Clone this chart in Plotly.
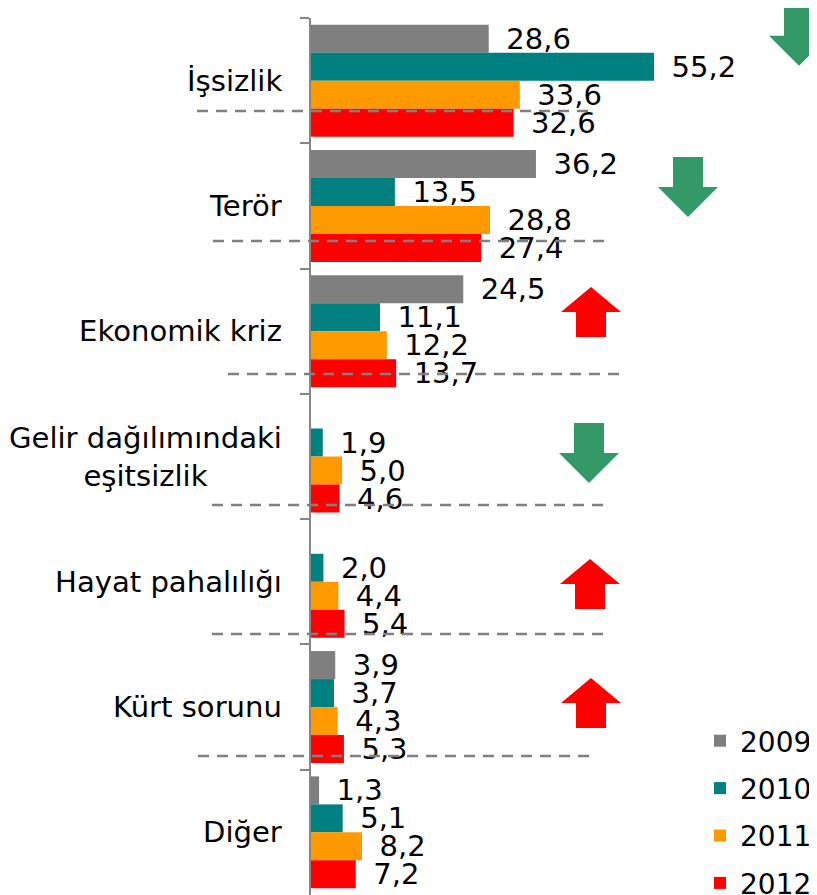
import plotly.graph_objects as go

# ---------------- data ----------------
categories = ["İşsizlik", "Terör", "Ekonomik kriz", "Gelir dağılımındaki eşitsizlik",
              "Hayat pahalılığı", "Kürt sorunu", "Diğer"]
category_labels = ["İşsizlik", "Terör", "Ekonomik kriz", "Gelir dağılımındaki<br>eşitsizlik",
                   "Hayat pahalılığı", "Kürt sorunu", "Diğer"]
years = ["2009", "2010", "2011", "2012"]
values_2009 = [28.6, 36.2, 24.5, None, None, 3.9, 1.3]
values_2010 = [55.2, 13.5, 11.1, 1.9, 2.0, 3.7, 5.1]
values_2011 = [33.6, 28.8, 12.2, 5.0, 4.4, 4.3, 8.2]
values_2012 = [32.6, 27.4, 13.7, 4.6, 5.4, 5.3, 7.2]
series = [values_2009, values_2010, values_2011, values_2012]
# trend direction per category (down = decrease, up = increase)
trend = ["down", "down", "up", "down", "up", "up", None]

# ---------------- styling / layout ----------------
colors = ["#7F7F7F", "#008080", "#FF9900", "#FF0000"]
FONT = "DejaVu Sans"
OFF = 8                      # page body margin
W, H = 817, 895
L, R, T, B = 311 - OFF, OFF, 18 - OFF, OFF
PW, PH = W - L - R, H - T - B
XMAX = PW / 6.215

def px_x(px):
    return (px - OFF - L) / PW

def px_y(py):
    return 1 - (py - OFF - T) / PH

fig = go.Figure()
for name, vals, col in zip(years, series, colors):
    fig.add_trace(go.Bar(
        y=categories, x=vals, name=name, orientation="h",
        marker=dict(color=col, line=dict(width=0)),
        texttemplate="\u2002%{x:.1f}", textposition="outside",
        textfont=dict(family=FONT, size=29, color="black"),
        constraintext="none", cliponaxis=False,
        legendgroup=name,
    ))

shapes = []
# dashed guide lines (pixel positions)
dash_lines = [(111, 197, 590), (241, 213, 607), (374, 228, 620),
              (505, 212, 605), (634, 212, 605), (756, 198, 590)]
for yy, x0, x1 in dash_lines:
    shapes.append(dict(type="line", xref="paper", yref="paper",
                       x0=px_x(x0), x1=px_x(x1), y0=px_y(yy), y1=px_y(yy),
                       line=dict(color="#808080", width=2.5, dash="11px,8px"),
                       layer="above"))

# trend arrows: (center x px, top y px)
arrow_pos = [(799, 5.7), (688, 157), (591, 287), (589, 423), (590, 559), (591, 678)]
for (cx, ty), tr in zip(arrow_pos, trend):
    if tr == "down":
        pts = [(cx - 15, ty), (cx + 15, ty), (cx + 15, ty + 30), (cx + 30, ty + 30),
               (cx, ty + 60), (cx - 30, ty + 30), (cx - 15, ty + 30)]
        col = "#339966"
    else:
        pts = [(cx, ty), (cx + 30, ty + 25), (cx + 15, ty + 25), (cx + 15, ty + 50),
               (cx - 15, ty + 50), (cx - 15, ty + 25), (cx - 30, ty + 25)]
        col = "#FF0000"
    path = "M" + " L".join(f"{px_x(a):.5f},{px_y(b):.5f}" for a, b in pts) + " Z"
    shapes.append(dict(type="path", xref="paper", yref="paper", path=path,
                       fillcolor=col, line=dict(width=0), layer="above"))

annotations = []
for cat, lab in zip(categories, category_labels):
    annotations.append(dict(xref="paper", yref="y", x=0, y=cat, text=lab,
                            xanchor="right", yanchor="middle", xshift=-27,
                            align="center", showarrow=False,
                            font=dict(family=FONT, size=29.1, color="black")))

fig.update_layout(
    width=W, height=H, margin=dict(l=L, r=R, t=T, b=B, autoexpand=False),
    paper_bgcolor="white", plot_bgcolor="white",
    barmode="group", bargap=0.106, bargroupgap=0,
    separators=", ",
    font=dict(family=FONT, size=29, color="black"),
    xaxis=dict(visible=False, range=[0, XMAX], fixedrange=True),
    yaxis=dict(type="category", categoryorder="array", categoryarray=categories,
               range=[6.5, -0.5], showticklabels=False, showgrid=False,
               showline=True, linecolor="#868686", linewidth=1.5,
               ticks="outside", tickson="boundaries", ticklen=9,
               tickcolor="#868686", tickwidth=1.5, zeroline=False),
    showlegend=True,
    legend=dict(x=px_x(700), y=px_y(716), xanchor="left", yanchor="top",
                font=dict(family=FONT, size=28, color="black"),
                tracegroupgap=8, bgcolor="rgba(0,0,0,0)"),
    shapes=shapes, annotations=annotations,
)

fig.write_html("out.html")
